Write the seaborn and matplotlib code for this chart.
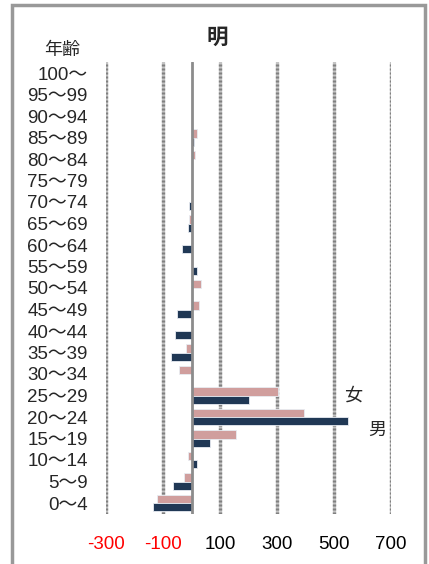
import matplotlib
matplotlib.use("Agg")
import matplotlib.pyplot as plt
from matplotlib.patches import Rectangle
import seaborn as sns
import pandas as pd

# Age groups, top to bottom
ages = [
    "100～", "95～99", "90～94", "85～89", "80～84", "75～79", "70～74",
    "65～69", "60～64", "55～59", "50～54", "45～49", "40～44", "35～39",
    "30～34", "25～29", "20～24", "15～19", "10～14", "5～9", "0～4",
]
female = [0, 0, 0, 19, 12, 0, 0, -9, 0, 0, 33, 27, 0, -19, -45, 305, 395, 155, -12, -25, -122]
male = [0, 0, 0, 8, 0, 0, -9, -14, -33, 20, 0, -51, -58, -71, 0, 201, 550, 66, 20, -64, -135]
xticks = [-300, -100, 100, 300, 500, 700]

df = pd.DataFrame({
    "年齢": ages * 2,
    "値": female + male,
    "性別": ["女"] * len(ages) + ["男"] * len(ages),
})

sns.set_theme(style="white")
plt.rcParams["font.family"] = ["Liberation Sans", "Noto Sans CJK JP"]

fig, ax = plt.subplots(figsize=(4.29, 5.64), dpi=100)
ax.set_position([106 / 429, 50.25 / 564, 285 / 429, 451.5 / 564])

sns.barplot(
    data=df, x="値", y="年齢", hue="性別", order=ages, hue_order=["女", "男"],
    palette={"女": "#d99694", "男": "#17375e"}, orient="h", width=0.76,
    edgecolor="#e8ecf2", linewidth=0.6, legend=False, ax=ax,
)

ax.set_xlim(-300, 700)
ax.set_xticks(xticks)
ax.set_xticklabels([str(v) for v in xticks])
for lbl, v in zip(ax.get_xticklabels(), xticks):
    lbl.set_color("red" if v < 0 else "black")

# dotted grid: light band with darker dots on top
for v in xticks:
    ax.axvline(v, color="#c4c4c4", lw=2.4, zorder=0)
    ax.axvline(v, color="#808080", lw=2.4, ls=(0, (0.6, 0.6)), zorder=0)
ax.axvline(0, color="#8c8c8c", lw=2.0, zorder=3)

ax.tick_params(axis="x", length=0, pad=16, labelsize=13.5)
ax.tick_params(axis="y", length=0, pad=13, labelsize=13.5)
ax.set_xlabel("")
ax.set_ylabel("")
for s in ax.spines.values():
    s.set_visible(False)

ax.text(568, 15, "女", fontsize=13, ha="center", va="center",
        family=["Noto Sans CJK JP"])
ax.text(652, 16.6, "男", fontsize=13, ha="center", va="center",
        family=["Noto Sans CJK JP"])

fig.text(217 / 429, 1 - 37 / 564, "明", fontsize=15.5, fontweight="bold",
         ha="center", va="center", family=["Noto Sans CJK JP"])
fig.text(62 / 429, 1 - 50 / 564, "年齢", fontsize=13, ha="center",
         va="center", family=["Noto Sans CJK JP"])

# outer frame
fig.patches.append(Rectangle((12 / 429, -0.02), 413 / 429, 1.02 - 5 / 564,
                             transform=fig.transFigure, fill=False,
                             edgecolor="#999999", lw=2.5))

fig.savefig("out.png", dpi=100)
